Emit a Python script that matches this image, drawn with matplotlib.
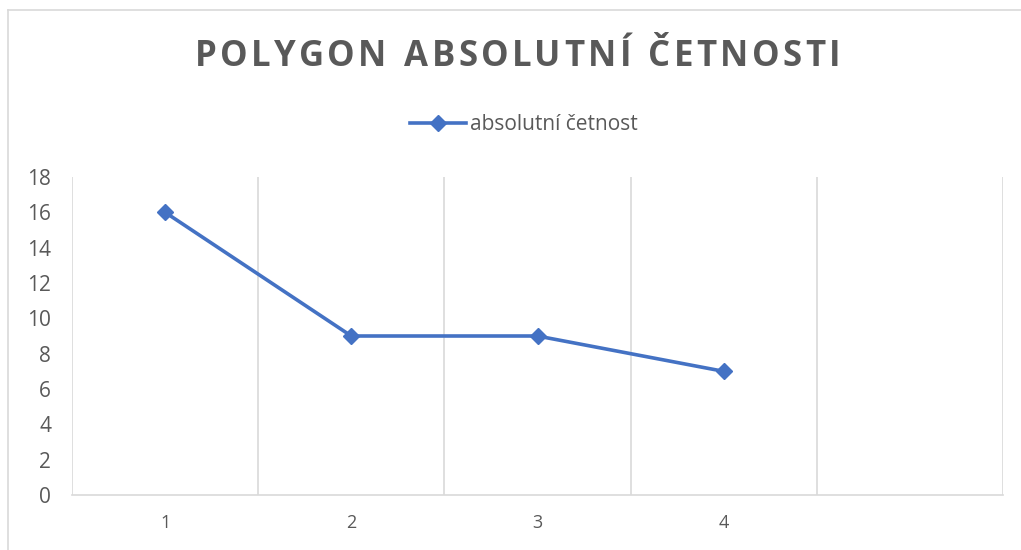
import numpy as np
import matplotlib
matplotlib.use("Agg")
import matplotlib.pyplot as plt
from matplotlib.lines import Line2D

categories = ["1", "2", "3", "4", ""]
values = [16, 9, 9, 7, np.nan]
series_name = "absolutní četnost"
title = "POLYGON ABSOLUTNÍ ČETNOSTI"
y_ticks = list(range(0, 19, 2))

line_color = "#4472C4"
text_color = "#595959"
grid_color = "#D9D9D9"

plt.rcParams["font.family"] = ["Open Sans", "DejaVu Sans"]

fig = plt.figure(figsize=(10.21, 5.50), dpi=100)
ax = fig.add_axes([72 / 1021, 55 / 550, (1003 - 72) / 1021, (495 - 177) / 550])

x = np.arange(1, len(categories) + 1)
ax.plot(x, values, color=line_color, lw=2.6, marker="D", ms=8.5,
        markerfacecolor=line_color, markeredgecolor=line_color, zorder=3)

ax.set_xlim(0.5, len(categories) + 0.5)
ax.set_ylim(0, 18)
ax.set_yticks(y_ticks)
ax.set_xticks(x)
ax.set_xticklabels(categories)

# vertical gridlines at category boundaries
ax.set_xticks(np.arange(0.5, len(categories) + 1), minor=True)
ax.grid(True, which="minor", axis="x", color=grid_color, lw=1.2)
ax.tick_params(which="both", length=0)
ax.tick_params(axis="y", labelsize=15, colors=text_color, pad=15)
ax.tick_params(axis="x", labelsize=13, colors=text_color, pad=14)

for s in ["top", "right", "left"]:
    ax.spines[s].set_visible(False)
ax.spines["bottom"].set_color(grid_color)
ax.spines["bottom"].set_linewidth(1.2)

# chart border (cropped at right/bottom)
fig.add_artist(Line2D([8 / 1021, 8 / 1021], [0, 1 - 10 / 550], color=grid_color, lw=1.2))
fig.add_artist(Line2D([8 / 1021, 1], [1 - 10 / 550, 1 - 10 / 550], color=grid_color, lw=1.2))

# title with letter spacing, drawn char by char
fig.canvas.draw()
renderer = fig.canvas.get_renderer()
spacing = 3.0
size = 25
widths = []
for ch in title:
    t = fig.text(0, 0, ch if ch != " " else "n", fontsize=size, fontweight="bold")
    w = t.get_window_extent(renderer).width
    if ch == " ":
        w *= 0.5
    widths.append(w)
    t.remove()
total = sum(widths) + spacing * (len(title) - 1)
scale = 645 / total
xpos = 517.5 - 645 / 2
for ch, w in zip(title, widths):
    fig.text(xpos / 1021, 1 - 57 / 550, ch, fontsize=size, fontweight="bold",
             color=text_color, ha="left", va="center")
    xpos += (w + spacing) * scale

handle = Line2D([], [], color=line_color, lw=2.6, marker="D", ms=8.5)
fig.legend([handle], [series_name], loc="center", bbox_to_anchor=(524 / 1021, 1 - 125 / 550),
           frameon=False, fontsize=15, labelcolor=text_color, handlelength=2.7,
           handletextpad=0.2)

fig.savefig("out.png", dpi=100)
